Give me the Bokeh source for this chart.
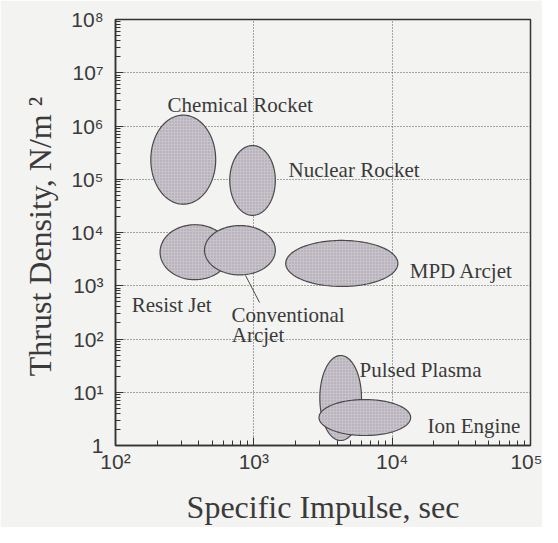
import numpy as np
from bokeh.plotting import figure
from bokeh.models import Range1d, CustomJSTickFormatter, FixedTicker, ColumnDataSource
from bokeh.core.properties import value
from bokeh.embed import file_html
from bokeh.resources import INLINE

# ---- data: operating regions (specific impulse in s, thrust density in N/m^2) ----
names = ["Chemical Rocket", "Nuclear Rocket", "Resist Jet", "Conventional Arcjet",
         "MPD Arcjet", "Pulsed Plasma", "Ion Engine"]
isp_min = [180, 670, 210, 440, 1700, 3000, 2960]
isp_max = [530, 1430, 670, 1430, 11000, 6000, 13600]
thr_min = [3.4e4, 2.1e4, 1.3e3, 1.6e3, 970, 1.24, 1.54]
thr_max = [1.6e6, 4.3e5, 1.4e4, 1.35e4, 7100, 49, 7.3]

# text labels
label_text = ["Chemical Rocket", "Nuclear Rocket", "MPD Arcjet", "Resist Jet",
              "Conventional", "Arcjet", "Pulsed Plasma", "Ion Engine"]
label_x = [238, 1780, 1.34e4, 131, 690, 693, 5810, 1.80e4]
label_y = [2.43e6, 1.52e5, 1.93e3, 426, 288, 121, 26.7, 2.37]

# leader line for Conventional Arcjet
leader_x = [871, 1100]
leader_y = [1557, 484]

major_y = [1, 1e1, 1e2, 1e3, 1e4, 1e5, 1e6, 1e7, 1e8]
major_x = [1e2, 1e3, 1e4, 1e5]

# ---- figure ----
BG = "#f3f3f1"
INK = "#333333"
p = figure(width=542, height=527, x_axis_type="log", y_axis_type="log",
           x_range=Range1d(1e2, 1e5), y_range=Range1d(1, 1e8),
           output_backend="svg", toolbar_location=None,
           min_border_left=115, min_border_right=12, min_border_top=19,
           min_border_bottom=82)
p.background_fill_color = BG
p.border_fill_color = BG
p.outline_line_color = INK
p.outline_line_width = 1.5

# ellipses drawn in log space
t = np.linspace(0, 2 * np.pi, 160)
xs, ys = [], []
for a, b, c, d in zip(isp_min, isp_max, thr_min, thr_max):
    lx0, lx1 = np.log10(a), np.log10(b)
    ly0, ly1 = np.log10(c), np.log10(d)
    cx, rx = (lx0 + lx1) / 2, (lx1 - lx0) / 2
    cy, ry = (ly0 + ly1) / 2, (ly1 - ly0) / 2
    xs.append(list(10 ** (cx + rx * np.cos(t))))
    ys.append(list(10 ** (cy + ry * np.sin(t))))
src = ColumnDataSource(dict(xs=xs, ys=ys, name=names))
p.patches("xs", "ys", source=src, fill_color="#c8c2cb", line_color="#4a4a4a",
          line_width=1.2, hatch_pattern="dot", hatch_color="#a29ca6",
          hatch_scale=3, hatch_weight=1)

p.line(leader_x, leader_y, line_color="#4a4a4a", line_width=1)

lsrc = ColumnDataSource(dict(x=label_x, y=label_y, text=label_text))
p.text("x", "y", text="text", source=lsrc, text_font=value("Liberation Serif"),
       text_font_size="21px", text_color="#3a3a3a", text_baseline="alphabetic",
       text_align="left")

# axes
fmt = CustomJSTickFormatter(code="""
const e = Math.round(Math.log10(tick));
if (e == 0) return "1";
const sup = ["\u2070","\u00b9","\u00b2","\u00b3","\u2074","\u2075","\u2076","\u2077","\u2078","\u2079"];
return "10" + String(e).split("").map(c => sup[parseInt(c)]).join("");
""")
minor_y = [k * 10 ** e for e in range(8) for k in range(2, 10)]
minor_x = [k * 10 ** e for e in range(2, 5) for k in range(2, 10)]
p.yaxis.ticker = FixedTicker(ticks=major_y, minor_ticks=minor_y)
p.xaxis.ticker = FixedTicker(ticks=major_x, minor_ticks=minor_x)
for ax in (p.xaxis[0], p.yaxis[0]):
    ax.formatter = fmt
    ax.major_tick_in = 8
    ax.major_tick_out = 0
    ax.minor_tick_in = 5
    ax.minor_tick_out = 0
    ax.major_tick_line_color = INK
    ax.minor_tick_line_color = INK
    ax.axis_line_color = INK
    ax.axis_line_width = 1.5
    ax.major_label_text_font = "Liberation Sans"
    ax.major_label_text_font_size = "21px"
    ax.major_label_text_color = "#3a3a3a"
    ax.axis_label_text_font = "Liberation Serif"
    ax.axis_label_text_font_style = "normal"
    ax.axis_label_text_font_size = "32px"
    ax.axis_label_text_color = "#3a3a3a"
p.xaxis.axis_label = "Specific Impulse, sec"
p.yaxis.axis_label = "Thrust Density,  N/m \u00b2"
p.xaxis.major_label_standoff = 4
p.yaxis.major_label_standoff = 12
p.xaxis.axis_label_standoff = 13
p.yaxis.axis_label_standoff = 10

for g in (p.xgrid[0], p.ygrid[0]):
    g.grid_line_color = "#555555"
    g.grid_line_dash = "1 2"
    g.grid_line_width = 1

open("out.html", "w").write(file_html(p, INLINE))
